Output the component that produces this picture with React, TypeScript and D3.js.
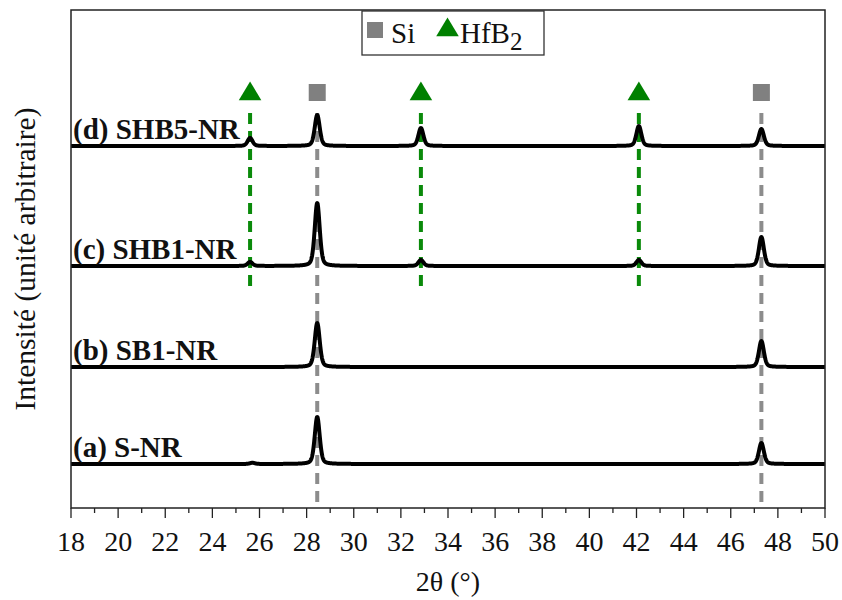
import React from "react";
import * as d3 from "d3";

const W = 842;
const H = 600;
const M = { left: 71, right: 17, top: 10, bottom: 92 };

// Data
const xDomain: [number, number] = [18, 50];
const majorTicks = [18, 20, 22, 24, 26, 28, 30, 32, 34, 36, 38, 40, 42, 44, 46, 48, 50];
const minorTicks = [19, 21, 23, 25, 27, 29, 31, 33, 35, 37, 39, 41, 43, 45, 47, 49];
const sampleLabels = ["(a) S-NR", "(b) SB1-NR", "(c) SHB1-NR", "(d) SHB5-NR"];
const baselines = [44, 141, 242, 362];
const siPositions = [28.45, 47.3];
const hfb2Positions = [25.6, 32.85, 42.1];
// peaks per sample: [position, height]
const peaksA: [number, number][] = [[25.7, 1.2], [28.45, 47], [47.3, 21]];
const peaksB: [number, number][] = [[28.45, 44], [47.3, 26]];
const peaksC: [number, number][] = [[25.6, 4], [28.45, 63], [32.85, 6], [42.1, 6], [47.3, 29]];
const peaksD: [number, number][] = [[25.6, 8], [28.45, 31], [32.85, 18], [42.1, 20], [47.3, 17]];
const allPeaks = [peaksA, peaksB, peaksC, peaksD];

const fwhm = 0.25;
const eta = 0.35;
function profile(x: number, peaks: [number, number][]) {
  let s = 0;
  for (const [c, h] of peaks) {
    const u = (x - c) / fwhm;
    s += h * (eta / (1 + 4 * u * u) + (1 - eta) * Math.exp(-4 * Math.LN2 * u * u));
  }
  return s;
}

const FONT = "Liberation Serif";

export default function App() {
  const iw = W - M.left - M.right;
  const ih = H - M.top - M.bottom;
  const x = d3.scaleLinear().domain(xDomain).range([M.left, M.left + iw]);
  const y = d3.scaleLinear().domain([0, 498]).range([M.top + ih, M.top]);
  const xs = d3.range(xDomain[0], xDomain[1] + 0.0001, 0.01);
  const line = d3
    .line<number[]>()
    .x((d) => x(d[0]))
    .y((d) => y(d[1]));
  const bottom = M.top + ih;
  const markerY = 93;

  const tri = d3.symbol().type(d3.symbolTriangle).size(200)() as string;

  return (
    <svg
      width={W}
      height={H}
      style={{ position: "absolute", left: 0, top: 0, background: "#fff" }}
      fontFamily={FONT}
    >
      {/* reference lines */}
      {siPositions.map((p) => (
        <line
          key={"si" + p}
          x1={x(p)}
          x2={x(p)}
          y1={113}
          y2={505}
          stroke="#8c8c8c"
          strokeWidth={4}
          strokeDasharray="11 7"
        />
      ))}
      {hfb2Positions.map((p) => (
        <line
          key={"h" + p}
          x1={x(p)}
          x2={x(p)}
          y1={113}
          y2={286}
          stroke="#0a8a0a"
          strokeWidth={4}
          strokeDasharray="11 7"
        />
      ))}
      {/* traces */}
      {allPeaks.map((pk, i) => (
        <path
          key={i}
          d={line(xs.map((v) => [v, baselines[i] + profile(v, pk)])) as string}
          fill="none"
          stroke="#000"
          strokeWidth={4}
          strokeLinejoin="round"
        />
      ))}
      {/* sample labels */}
      {sampleLabels.map((t, i) => (
        <text
          key={t}
          x={M.left + 2}
          y={y(baselines[i]) - 7}
          fontSize={29}
          fontWeight="bold"
          fill="#111"
          fontFamily={FONT}
        >
          {t}
        </text>
      ))}
      {/* markers */}
      {siPositions.map((p) => (
        <rect key={"sq" + p} x={x(p) - 8.5} y={markerY - 9} width={17} height={17} fill="#808080" />
      ))}
      {hfb2Positions.map((p) => (
        <path key={"tr" + p} d={tri} transform={`translate(${x(p)},${markerY + 1}) scale(1.05,1)`} fill="#008000" />
      ))}
      {/* frame */}
      <rect x={M.left} y={M.top} width={iw} height={ih} fill="none" stroke="#222" strokeWidth={1.5} />
      {/* ticks */}
      {majorTicks.map((t) => (
        <g key={"M" + t}>
          <line x1={x(t)} x2={x(t)} y1={bottom} y2={bottom + 10} stroke="#222" strokeWidth={1.3} />
          <text x={x(t)} y={bottom + 43} textAnchor="middle" fontSize={28} fill="#111" fontFamily={FONT}>
            {t}
          </text>
        </g>
      ))}
      {minorTicks.map((t) => (
        <line key={"m" + t} x1={x(t)} x2={x(t)} y1={bottom} y2={bottom + 5} stroke="#222" strokeWidth={1.3} />
      ))}
      {/* axis titles */}
      <text x={M.left + iw / 2} y={591} textAnchor="middle" fontSize={28} fill="#111" fontFamily={FONT}>
        2θ (°)
      </text>
      <text
        transform={`translate(25,${M.top + ih / 2}) rotate(-90)`}
        textAnchor="middle"
        dominantBaseline="central"
        fontSize={29.5}
        fill="#111"
        fontFamily={FONT}
      >
        Intensité (unité arbitraire)
      </text>
      {/* legend */}
      <rect x={362} y={11} width={182} height={44} fill="#fff" stroke="#333" strokeWidth={1.3} />
      <rect x={367} y={22} width={16} height={16} fill="#808080" />
      <text x={391} y={43} fontSize={29} fill="#111" fontFamily={FONT}>Si</text>
      <path d={tri} transform={`translate(447.5,30) scale(1.05,1)`} fill="#008000" />
      <text x={460} y={43} fontSize={29} fill="#111" fontFamily={FONT}>
        HfB<tspan fontSize={25} dy={7}>2</tspan>
      </text>
    </svg>
  );
}
